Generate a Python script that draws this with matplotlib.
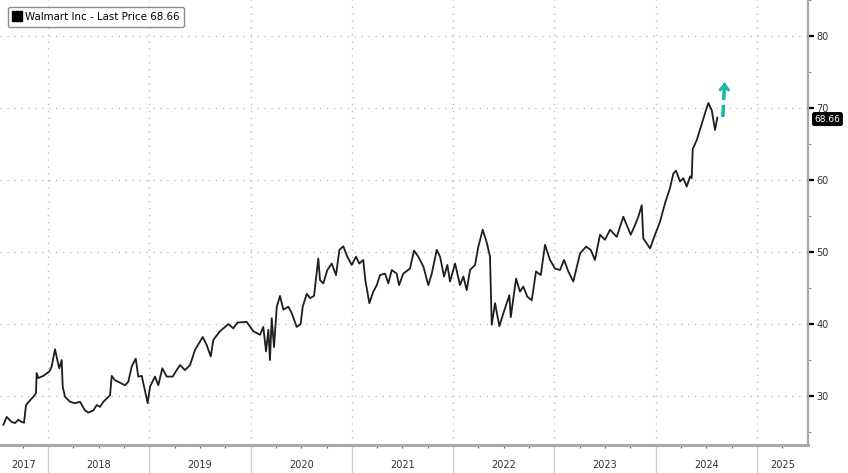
import matplotlib
matplotlib.use('Agg')
import numpy as np
from matplotlib import pyplot as plt
from matplotlib.lines import Line2D
from matplotlib.ticker import MultipleLocator, FixedLocator

# Walmart Inc, last price (split adjusted), time in decimal years
t = [2017.560, 2017.593, 2017.642, 2017.675, 2017.708, 2017.741, 2017.764, 2017.784,
     2017.823, 2017.856, 2017.882, 2017.889, 2017.905, 2017.954, 2018.014, 2018.037,
     2018.070, 2018.093, 2018.112, 2018.136, 2018.146, 2018.169, 2018.218, 2018.267,
     2018.317, 2018.366, 2018.399, 2018.448, 2018.482, 2018.514, 2018.547, 2018.613,
     2018.630, 2018.662, 2018.712, 2018.761, 2018.794, 2018.827, 2018.867, 2018.892,
     2018.926, 2018.949, 2018.985, 2019.008, 2019.057, 2019.090, 2019.129, 2019.173,
     2019.232, 2019.271, 2019.304, 2019.353, 2019.403, 2019.452, 2019.528, 2019.567,
     2019.607, 2019.633, 2019.699, 2019.781, 2019.830, 2019.870, 2019.962, 2020.027,
     2020.094, 2020.126, 2020.153, 2020.176, 2020.192, 2020.209, 2020.232, 2020.259,
     2020.291, 2020.324, 2020.373, 2020.407, 2020.456, 2020.495, 2020.515, 2020.555,
     2020.587, 2020.627, 2020.669, 2020.686, 2020.719, 2020.758, 2020.801, 2020.844,
     2020.877, 2020.916, 2020.955, 2020.999, 2021.041, 2021.074, 2021.113, 2021.133,
     2021.173, 2021.212, 2021.246, 2021.278, 2021.328, 2021.360, 2021.394, 2021.443,
     2021.466, 2021.508, 2021.574, 2021.614, 2021.656, 2021.706, 2021.755, 2021.789,
     2021.838, 2021.871, 2021.910, 2021.943, 2021.969, 2022.019, 2022.068, 2022.101,
     2022.134, 2022.167, 2022.216, 2022.249, 2022.292, 2022.332, 2022.364, 2022.381,
     2022.414, 2022.456, 2022.496, 2022.555, 2022.569, 2022.621, 2022.660, 2022.693,
     2022.732, 2022.776, 2022.818, 2022.865, 2022.907, 2022.956, 2023.006, 2023.055,
     2023.095, 2023.137, 2023.186, 2023.253, 2023.312, 2023.358, 2023.400, 2023.450,
     2023.499, 2023.549, 2023.615, 2023.680, 2023.753, 2023.796, 2023.828, 2023.862,
     2023.877, 2023.944, 2023.993, 2024.042, 2024.092, 2024.141, 2024.174, 2024.200,
     2024.240, 2024.272, 2024.306, 2024.339, 2024.355, 2024.365, 2024.405, 2024.430,
     2024.464, 2024.496, 2024.519, 2024.553, 2024.585, 2024.608]
price = [26.0, 27.1, 26.4, 26.25, 26.7, 26.4, 26.3, 28.75,
         29.4, 29.9, 30.4, 33.2, 32.5, 32.8, 33.4, 34.1,
         36.5, 35.0, 33.85, 35.0, 31.3, 29.9, 29.2, 29.0,
         29.2, 28.0, 27.7, 28.0, 28.75, 28.5, 29.2, 30.1,
         32.8, 32.2, 31.85, 31.5, 32.0, 34.1, 35.2, 32.7,
         32.8, 31.3, 29.0, 31.3, 32.7, 31.5, 33.85, 32.7,
         32.7, 33.6, 34.3, 33.6, 34.3, 36.4, 38.2, 37.1,
         35.5, 37.8, 39.0, 40.0, 39.4, 40.2, 40.3, 39.0,
         38.5, 39.6, 36.2, 39.2, 35.0, 40.8, 36.8, 42.4,
         43.9, 42.0, 42.4, 41.5, 39.6, 40.0, 42.4, 44.2,
         43.6, 43.9, 49.1, 46.1, 45.65, 47.5, 48.4, 46.8,
         50.3, 50.8, 49.35, 48.2, 49.35, 48.4, 48.9, 46.1,
         42.9, 44.5, 45.4, 46.8, 47.0, 45.65, 47.5, 47.0,
         45.4, 47.0, 47.7, 50.2, 49.35, 48.0, 45.4, 47.0,
         50.3, 49.35, 46.6, 48.2, 45.9, 48.4, 45.4, 46.6,
         44.7, 47.5, 48.2, 50.75, 53.1, 51.3, 49.35, 39.9,
         42.9, 39.7, 41.5, 44.0, 40.95, 46.3, 44.5, 45.2,
         43.8, 43.3, 47.3, 46.8, 51.0, 48.9, 47.7, 47.5,
         48.9, 47.3, 45.9, 49.8, 50.75, 50.3, 48.9, 52.4,
         51.7, 53.1, 52.1, 54.9, 52.4, 53.75, 54.9, 56.5,
         51.9, 50.5, 52.4, 54.2, 56.8, 58.9, 60.9, 61.3,
         59.8, 60.25, 59.1, 60.5, 60.25, 64.3, 65.55, 66.7,
         68.3, 69.7, 70.7, 69.7, 66.95, 68.66]

last_price = 68.66
series_name = 'Walmart Inc - Last Price 68.66'
years = [2017, 2018, 2019, 2020, 2021, 2022, 2023, 2024, 2025]

# layout
x_min, x_max = 2017.527, 2025.503
y_min, y_max = 23.2, 85.0
grid_col = '#bdbdbd'
axis_col = '#a8a8a8'
arrow_col = '#19b6a0'
arrow_tail = (2024.662, 68.75)
arrow_head = (2024.680, 73.9)

fig = plt.figure(figsize=(8.48, 4.73), dpi=100)
ax = fig.add_axes([0.0, 28 / 473, 808 / 848, 445 / 473])

ax.plot(t, price, color='#1e1e1e', lw=1.3, zorder=3)

ax.set_xlim(x_min, x_max)
ax.set_ylim(y_min, y_max)

# spines
for s in ['top', 'left']:
    ax.spines[s].set_visible(False)
ax.spines['right'].set_color(axis_col)
ax.spines['right'].set_linewidth(1.6)
ax.spines['bottom'].set_color(axis_col)
ax.spines['bottom'].set_linewidth(2.2)

# y axis on the right
ax.yaxis.tick_right()
ax.yaxis.set_major_locator(MultipleLocator(10))
ax.yaxis.set_minor_locator(MultipleLocator(5))
ax.tick_params(axis='y', which='major', direction='out', length=4, width=1.6,
               color='black', labelsize=7, labelcolor='#333333', pad=2)
ax.tick_params(axis='y', which='minor', direction='out', length=2, width=0.8,
               color='#888888')

# x axis: year separators and quarter ticks
ax.xaxis.set_major_locator(FixedLocator(years[1:]))
ax.xaxis.set_minor_locator(FixedLocator(np.arange(2017.75, 2025.5, 0.25)))
ax.tick_params(axis='x', which='major', direction='out', length=21, width=1.0,
               color='#d0d0d0', labelbottom=False)
ax.tick_params(axis='x', which='minor', direction='out', length=2, width=0.8,
               color='#666666')

# year labels centred in each year
edges = [x_min] + years[1:] + [x_max]
for i, yr in enumerate(years):
    ax.text((edges[i] + edges[i + 1]) / 2, -0.045, str(yr),
            transform=ax.get_xaxis_transform(), ha='center', va='center',
            fontsize=7, color='#333333')

# dotted grid
ax.grid(True, which='major', color=grid_col, linestyle=(0, (1, 4)), lw=1.0)
ax.set_axisbelow(True)

# last price tag
ax.annotate(f'{last_price:.2f}', xy=(1.0, last_price),
            xycoords=ax.get_yaxis_transform(),
            xytext=(14, -1), textcoords='offset points',
            ha='center', va='center', fontsize=6.5, color='white',
            bbox=dict(boxstyle='round,pad=0.2', fc='black', ec='black'),
            annotation_clip=False, zorder=10)

# teal dashed arrow
ax.plot([arrow_tail[0], arrow_head[0] - 0.002], [arrow_tail[1], arrow_head[1] - 0.9],
        color=arrow_col, lw=2.5, linestyle=(0, (3.5, 1.4)), solid_capstyle='butt')
ax.annotate('', xy=arrow_head, xytext=(arrow_head[0] - 0.002, arrow_head[1] - 1.0),
            arrowprops=dict(arrowstyle='->,head_length=0.35,head_width=0.3',
                            color=arrow_col, lw=2.2))

# legend box
h = Line2D([], [], marker='s', color='black', ls='none', markersize=7)
leg = ax.legend(handles=[h], labels=[series_name], loc='upper left',
                bbox_to_anchor=(0.004, 0.995), fontsize=7.4, handlelength=0.8,
                handletextpad=0.4, borderpad=0.45, fancybox=True, framealpha=1,
                edgecolor='#8c8c8c')
leg.get_frame().set_linewidth(1.0)

fig.savefig('out.png', dpi=100)
